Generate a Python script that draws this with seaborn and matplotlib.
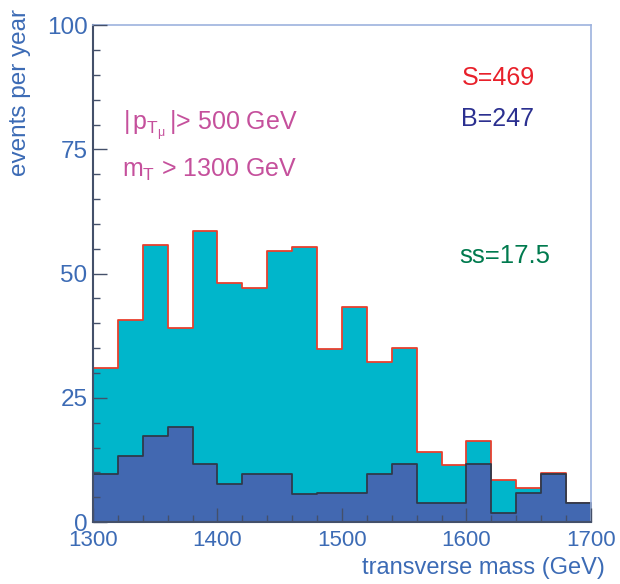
import numpy as np
import pandas as pd
import seaborn as sns
import matplotlib
matplotlib.use("Agg")
import matplotlib.pyplot as plt
from matplotlib.ticker import MultipleLocator

# bin edges (20 GeV bins) and contents
edges = list(range(1300, 1701, 20))
centers = [e + 10 for e in edges[:-1]]
total = [31.1, 40.7, 55.8, 39.0, 58.5, 48.1, 47.2, 54.6, 55.4, 34.9,
         43.3, 32.3, 35.0, 14.2, 11.4, 16.3, 8.5, 6.8, 9.8, 3.8]
background = [9.6, 13.4, 17.3, 19.2, 11.6, 7.7, 9.6, 9.6, 5.7, 5.8,
              5.8, 9.6, 11.6, 3.8, 3.8, 11.6, 1.9, 5.8, 9.6, 3.8]

df = pd.DataFrame({"mt": centers, "total": total, "background": background})

axis_blue = "#3C6BB5"

sns.set_style("white")
plt.rcParams["font.family"] = ["Liberation Sans", "DejaVu Sans"]
plt.rcParams["mathtext.fontset"] = "custom"
plt.rcParams["mathtext.rm"] = "Liberation Sans"
plt.rcParams["mathtext.it"] = "Liberation Sans"

fig = plt.figure(figsize=(6.2, 5.84), dpi=100)
ax = fig.add_axes([0.150, 0.106, 0.803, 0.851])

# signal + background (total), then background on top
sns.histplot(data=df, x="mt", weights="total", bins=edges, element="step", fill=True,
             color="#00B6CB", alpha=1, edgecolor="#E8402E", linewidth=1.3, ax=ax)
sns.histplot(data=df, x="mt", weights="background", bins=edges, element="step", fill=True,
             color="#4268B1", alpha=1, edgecolor="#2F3A4A", linewidth=1.3, ax=ax)

ax.set_xlim(1300, 1700)
ax.set_ylim(0, 100)
ax.xaxis.set_major_locator(MultipleLocator(100))
ax.xaxis.set_minor_locator(MultipleLocator(20))
ax.yaxis.set_major_locator(MultipleLocator(25))
ax.yaxis.set_minor_locator(MultipleLocator(5))
ax.tick_params(which="both", direction="in", bottom=True, left=True,
               colors="#44506A", labelcolor=axis_blue)
ax.tick_params(which="major", length=10, width=1)
ax.tick_params(which="minor", length=5, width=1)
ax.tick_params(axis="x", pad=6, labelsize=16)
ax.tick_params(axis="y", pad=4, labelsize=17.5)

for s in ["left", "bottom"]:
    ax.spines[s].set_color("#44506A")
    ax.spines[s].set_linewidth(1.5)
for s in ["top", "right"]:
    ax.spines[s].set_color("#9DB3DE")
    ax.spines[s].set_linewidth(1.2)
ax.set_axisbelow(False)

ax.set_xlabel("")
ax.set_ylabel("")
fig.text(0.975, 0.028, "transverse mass (GeV)", color=axis_blue, fontsize=17,
         ha="right", va="center")
fig.text(0.033, 0.985, "events per year", color=axis_blue, fontsize=17.5,
         rotation=90, ha="center", va="top")

ax.text(1596, 88, "S=469", color="#E8202A", fontsize=18, va="baseline")
ax.text(1596, 79.7, "B=247", color="#2B3090", fontsize=18, va="baseline")
ax.text(1594, 52.1, "ss=17.5", color="#007A4E", fontsize=18.5, va="baseline")

ax.text(1324, 79, r"$|\,p_{T_{\mu}}\,|$> 500 GeV", color="#C5509C", fontsize=18,
        va="baseline")
ax.text(1323, 69.4, r"$m_{T}$ > 1300 GeV", color="#C5509C", fontsize=18,
        va="baseline")

fig.savefig("out.png", dpi=100)
